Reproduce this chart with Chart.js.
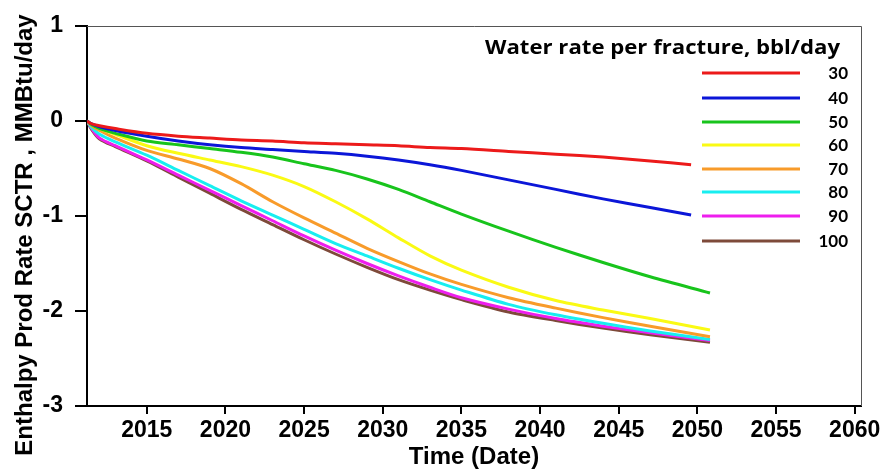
<!DOCTYPE html>
<html>
<head>
<meta charset="utf-8">
<script src="https://cdn.jsdelivr.net/npm/chart.js@4"></script>
<style>
  body { margin: 0; background: #fff; }
  #wrap { width: 885px; height: 474px; }
</style>
</head>
<body>
<div id="wrap"><canvas id="chart" width="885" height="474"></canvas></div>
<script>
// time axis (years), red/blue stop a bit earlier than the rest
const yearsA = [2011.2, 2011.5, 2012, 2013, 2015, 2017, 2019, 2021, 2023, 2025, 2027, 2029, 2031, 2033, 2035, 2038, 2041, 2044, 2047, 2049.6];
const yearsB = [2011.2, 2011.5, 2012, 2013, 2015, 2017, 2019, 2021, 2023, 2025, 2027, 2029, 2031, 2033, 2035, 2038, 2041, 2044, 2047, 2050.8];

const rateLabels = ["30", "40", "50", "60", "70", "80", "90", "100"];
const rateColors = ["#ec1a1a", "#0b16d8", "#18c41c", "#fafa14", "#f89b2a", "#18eef0", "#ee1eee", "#7e4a3a"];

const q30 = [0, -0.03, -0.05, -0.08, -0.13, -0.16, -0.18, -0.20, -0.21, -0.23, -0.24, -0.25, -0.26, -0.28, -0.29, -0.32, -0.35, -0.38, -0.42, -0.46];
const q40 = [0, -0.03, -0.06, -0.10, -0.16, -0.21, -0.25, -0.28, -0.30, -0.32, -0.34, -0.37, -0.41, -0.46, -0.52, -0.62, -0.72, -0.82, -0.91, -0.99];
const q50 = [0, -0.04, -0.08, -0.13, -0.21, -0.25, -0.29, -0.33, -0.38, -0.45, -0.52, -0.61, -0.72, -0.85, -0.98, -1.16, -1.33, -1.49, -1.64, -1.81];
const q60 = [0, -0.04, -0.08, -0.14, -0.26, -0.34, -0.41, -0.48, -0.57, -0.69, -0.85, -1.03, -1.23, -1.42, -1.57, -1.75, -1.89, -1.99, -2.08, -2.20];
const q70 = [0, -0.05, -0.10, -0.18, -0.31, -0.40, -0.50, -0.66, -0.85, -1.02, -1.18, -1.34, -1.48, -1.61, -1.72, -1.86, -1.97, -2.07, -2.16, -2.27];
const q80 = [0, -0.07, -0.14, -0.22, -0.36, -0.52, -0.68, -0.84, -0.99, -1.14, -1.29, -1.42, -1.55, -1.67, -1.78, -1.93, -2.04, -2.13, -2.21, -2.30];
const q90 = [0, -0.08, -0.18, -0.26, -0.41, -0.57, -0.73, -0.89, -1.05, -1.21, -1.36, -1.50, -1.63, -1.75, -1.86, -1.98, -2.08, -2.16, -2.23, -2.31];
const q100 = [0, -0.09, -0.19, -0.27, -0.42, -0.59, -0.76, -0.93, -1.09, -1.25, -1.40, -1.54, -1.67, -1.78, -1.88, -2.01, -2.10, -2.18, -2.25, -2.33];

const xTicks = [2015, 2020, 2025, 2030, 2035, 2040, 2045, 2050, 2055, 2060];
const yTicks = [-3, -2, -1, 0, 1];

const legendTitle = "Water rate per fracture, bbl/day";
const yTitle = "Enthalpy Prod Rate SCTR , MMBtu/day";

const series = [q30, q40, q50, q60, q70, q80, q90, q100];

const datasets = series.map((vals, i) => {
  const years = i < 2 ? yearsA : yearsB;
  return {
    label: rateLabels[i],
    data: vals.map((v, j) => ({ x: years[j], y: v })),
    borderColor: rateColors[i],
    backgroundColor: rateColors[i],
    borderWidth: 3,
    pointRadius: 0,
    tension: 0.3,
    fill: false,
  };
});

// box border, y title and in-plot legend
const framePlugin = {
  id: "frame",
  afterDatasetsDraw(chart) {
    const { ctx, chartArea: a } = chart;
    ctx.save();
    ctx.strokeStyle = "#555";
    ctx.lineWidth = 1;
    ctx.beginPath();
    ctx.moveTo(a.left, a.top + 0.5);
    ctx.lineTo(a.right + 0.5, a.top + 0.5);
    ctx.lineTo(a.right + 0.5, a.bottom);
    ctx.stroke();

    // y axis title sits a bit lower than the plot centre
    ctx.save();
    ctx.translate(32, 235);
    ctx.rotate(-Math.PI / 2);
    ctx.fillStyle = "#000";
    ctx.font = "bold 24px 'Liberation Sans'";
    ctx.textAlign = "center";
    ctx.textBaseline = "alphabetic";
    ctx.fillText(yTitle, 0, 0);
    ctx.restore();

    ctx.fillStyle = "#000";
    ctx.font = "bold 20px 'Open Sans'";
    ctx.textAlign = "left";
    ctx.textBaseline = "middle";
    const w = ctx.measureText(legendTitle).width;
    ctx.save();
    ctx.translate(485, 48);
    ctx.scale(355 / w, 1);
    ctx.fillText(legendTitle, 0, 0);
    ctx.restore();

    ctx.font = "bold 17px Lato";
    ctx.textAlign = "right";
    const rowsY = [73, 98, 122, 145, 169, 192, 216, 241];
    chart.data.datasets.forEach((ds, i) => {
      const y = rowsY[i];
      ctx.strokeStyle = ds.borderColor;
      ctx.lineWidth = 3;
      ctx.beginPath();
      ctx.moveTo(702, y);
      ctx.lineTo(800, y);
      ctx.stroke();
      ctx.fillText(ds.label, 848, y + 1);
    });
    ctx.restore();
  },
};

new Chart(document.getElementById("chart"), {
  type: "line",
  data: { datasets },
  options: {
    responsive: false,
    animation: false,
    layout: { padding: { top: 26, right: 24, left: 0, bottom: 0 } },
    plugins: {
      legend: { display: false },
      tooltip: { enabled: false },
    },
    scales: {
      x: {
        type: "linear",
        min: 2011.2,
        max: 2060.4,
        afterBuildTicks: (axis) => {
          axis.ticks = xTicks.map((v) => ({ value: v }));
        },
        afterFit: (scale) => {
          scale.height = 68;
        },
        border: { color: "#000", width: 2 },
        grid: { drawOnChartArea: false, color: "#000", lineWidth: 2, tickLength: 8 },
        ticks: {
          color: "#000",
          padding: 3,
          maxRotation: 0,
          font: { family: "Liberation Sans", size: 23, weight: "bold" },
          callback: (v) => String(v),
        },
        title: {
          display: true,
          text: "Time (Date)",
          color: "#000",
          padding: { top: 0, bottom: 2 },
          font: { family: "Liberation Sans", size: 24, weight: "bold" },
        },
      },
      y: {
        min: -3,
        max: 1,
        afterBuildTicks: (axis) => {
          axis.ticks = yTicks.map((v) => ({ value: v }));
        },
        afterFit: (scale) => {
          scale.width = 87;
        },
        border: { color: "#000", width: 2 },
        grid: { drawOnChartArea: false, color: "#000", lineWidth: 2, tickLength: 12 },
        ticks: {
          color: "#000",
          padding: 12,
          font: { family: "Liberation Sans", size: 23, weight: "bold" },
          callback: (v) => String(v),
        },
      },
    },
  },
  plugins: [framePlugin],
});
</script>
</body>
</html>
